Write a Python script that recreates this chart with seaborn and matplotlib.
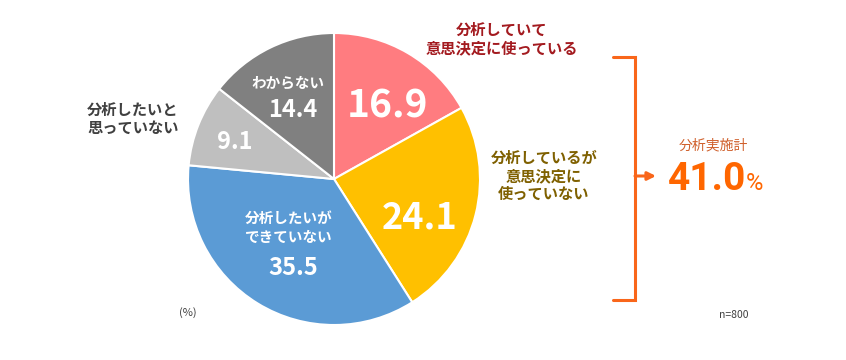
import matplotlib
matplotlib.use("Agg")
import matplotlib.pyplot as plt
import seaborn as sns

# data
categories = ["分析していて意思決定に使っている", "分析しているが意思決定に使っていない",
              "分析したいができていない", "分析したいと思っていない", "わからない"]
values = [16.9, 24.1, 35.5, 9.1, 14.4]
colors = ["#FF7C80", "#FFC000", "#5B9BD5", "#BFBFBF", "#808080"]
total_label = "分析実施計"
total_value = 41.0
n_label = "n=800"

sns.set_theme(style="white")
plt.rcParams['font.family'] = ['Noto Sans CJK JP', 'DejaVu Sans']

W, H = 846, 360
fig = plt.figure(figsize=(W / 100, H / 100), dpi=100)
ax = fig.add_axes([0, 0, 1, 1])
ax.axis("off")


def Y(y):
    return H - y


ax.pie(values, colors=colors, startangle=90, counterclock=False,
       center=(334, Y(179)), radius=146,
       wedgeprops=dict(edgecolor="white", linewidth=1.5))
ax.set_xlim(0, W)
ax.set_ylim(0, H)
ax.set_aspect("auto")

# values inside the pie
ax.text(387, Y(106), f"{values[0]}", color="white", fontsize=28, fontweight="bold",
        ha="center", va="center")
ax.text(420, Y(218), f"{values[1]}", color="white", fontsize=26, fontweight="bold",
        ha="center", va="center")
ax.text(289, Y(227), "分析したいが\nできていない", color="white", fontsize=10.5,
        fontweight="bold", ha="center", va="center", linespacing=1.25)
ax.text(293, Y(268), f"{values[2]}", color="white", fontsize=17, fontweight="bold",
        ha="center", va="center")
ax.text(235, Y(142), f"{values[3]}", color="white", fontsize=17, fontweight="bold",
        ha="center", va="center")
ax.text(288, Y(83), "わからない", color="white", fontsize=10.5, fontweight="bold",
        ha="center", va="center")
ax.text(293, Y(110), f"{values[4]}", color="white", fontsize=17, fontweight="bold",
        ha="center", va="center")

# outside labels
ax.text(502, Y(39), "分析していて\n意思決定に使っている", color="#A31A1F", fontsize=11,
        fontweight="bold", ha="center", va="center", linespacing=1.15)
ax.text(544, Y(176), "分析しているが\n意思決定に\n使っていない", color="#7F6000", fontsize=11,
        fontweight="bold", ha="center", va="center", linespacing=1.15)
ax.text(133, Y(119), "分析したいと\n思っていない", color="#404040", fontsize=11,
        fontweight="bold", ha="center", va="center", linespacing=1.2)

# bracket with arrow
orange = "#F9661A"
ax.plot([613, 635, 635, 613], [Y(57), Y(57), Y(300), Y(300)], color=orange,
        lw=2.2, solid_joinstyle="miter")
ax.annotate("", xy=(656, Y(176)), xytext=(635, Y(176)),
            arrowprops=dict(arrowstyle="-|>", color=orange, lw=2.2,
                            mutation_scale=12, shrinkA=0, shrinkB=0))

ax.text(713, Y(145), total_label, color="#D0602C", fontsize=10,
        ha="center", va="center")
ax.text(707, Y(179), f"{total_value:.1f}", color="#FF6600", fontsize=28,
        fontweight="bold", ha="center", va="center", family=["Roboto", "DejaVu Sans"])
ax.text(746, Y(184), "%", color="#FF6600", fontsize=17, ha="left", va="center",
        family=["Roboto", "DejaVu Sans"])

ax.text(734, Y(315), n_label, color="#404040", fontsize=7.5, ha="center", va="center")
ax.text(188, Y(313), "(%)", color="#404040", fontsize=8, ha="center", va="center")

fig.savefig("out.png", dpi=100)
